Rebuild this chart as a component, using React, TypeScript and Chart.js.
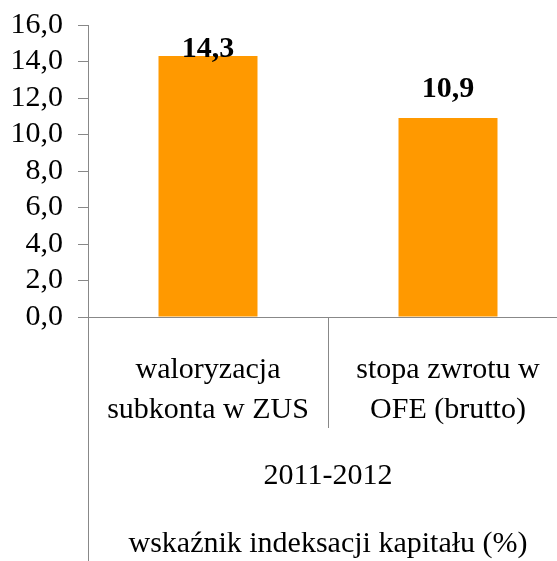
import React, { useEffect, useRef } from "react";
import { Chart, registerables } from "chart.js";

Chart.register(...registerables);

const categories: string[][] = [
  ["waloryzacja", "subkonta w ZUS"],
  ["stopa zwrotu w", "OFE (brutto)"],
];
const values: number[] = [14.3, 10.9];
const groupTitle: string[] = ["2011-2012", "", "wskaźnik indeksacji kapitału (%)"];
const yMin = 0;
const yMax = 16;
const yStep = 2;

const FONT = '"Liberation Serif", "Times New Roman", serif';
const GRAY = "#888888";

const fmt = (v: number) => v.toFixed(1).replace(".", ",");

export default function App() {
  const ref = useRef<HTMLCanvasElement>(null);
  useEffect(() => {
    if (!ref.current) return;
    const labelPlugin = {
      id: "barLabels",
      afterDatasetsDraw(chart: any) {
        const ctx = chart.ctx;
        const meta = chart.getDatasetMeta(0);
        ctx.save();
        ctx.font = `bold 30px ${FONT}`;
        ctx.fillStyle = "#000";
        ctx.textAlign = "center";
        ctx.textBaseline = "alphabetic";
        meta.data.forEach((bar: any, i: number) => {
          const y = Math.max(bar.y - 21, chart.chartArea.top + 32);
          ctx.fillText(fmt(values[i]), bar.x, y);
        });
        ctx.restore();
      },
      afterDraw(chart: any) {
        const ctx = chart.ctx;
        const x = Math.round(chart.chartArea.left) + 0.5;
        ctx.save();
        ctx.strokeStyle = GRAY;
        ctx.lineWidth = 1;
        ctx.beginPath();
        ctx.moveTo(x, chart.chartArea.bottom);
        ctx.lineTo(x, chart.height);
        ctx.stroke();
        ctx.restore();
      },
    };
    const chart = new Chart(ref.current, {
      type: "bar",
      data: {
        labels: categories,
        datasets: [
          {
            data: values,
            backgroundColor: "#FF9900",
            borderWidth: 0,
            categoryPercentage: 1,
            barPercentage: 0.4125,
          },
        ],
      },
      options: {
        responsive: false,
        animation: false,
        devicePixelRatio: 1,
        layout: { padding: { left: 0, top: 25, right: 32, bottom: 0 } },
        plugins: {
          legend: { display: false },
          tooltip: { enabled: false },
          title: { display: false },
        },
        scales: {
          x: {
            type: "category",
            offset: true,
            afterFit: (s: any) => {
              s.height = 244;
              s.paddingLeft = 0;
              s.paddingRight = 0;
            },
            grid: {
              offset: true,
              drawOnChartArea: false,
              drawTicks: true,
              tickLength: 111,
              color: GRAY,
              lineWidth: 1,
            },
            border: { display: true, color: GRAY, width: 1 },
            ticks: {
              autoSkip: false,
              maxRotation: 0,
              minRotation: 0,
              padding: -78,
              color: "#000",
              font: { family: FONT, size: 30, lineHeight: 40 / 30 },
            },
            title: {
              display: true,
              text: groupTitle,
              color: "#000",
              font: { family: FONT, size: 30, lineHeight: 34 / 30 },
              padding: { top: 0, bottom: 0 },
            },
          },
          y: {
            min: yMin,
            max: yMax,
            afterFit: (s: any) => {
              s.width = 88;
              s.paddingTop = 0;
              s.paddingBottom = 0;
            },
            grid: {
              drawOnChartArea: false,
              drawTicks: true,
              tickLength: 10,
              color: GRAY,
            },
            border: { display: true, color: GRAY, width: 1 },
            ticks: {
              stepSize: yStep,
              autoSkip: false,
              padding: 15,
              color: "#000",
              font: { family: FONT, size: 30, lineHeight: 1 },
              callback: (v: any) => fmt(Number(v)),
            },
          },
        },
      },
      plugins: [labelPlugin],
    });
    return () => chart.destroy();
  }, []);
  return (
    <div
      style={{
        position: "absolute",
        left: 0,
        top: 0,
        width: 557,
        height: 561,
        overflow: "hidden",
        background: "#fff",
      }}
    >
      <canvas ref={ref} width={600} height={561} style={{ width: 600, height: 561 }} />
    </div>
  );
}
